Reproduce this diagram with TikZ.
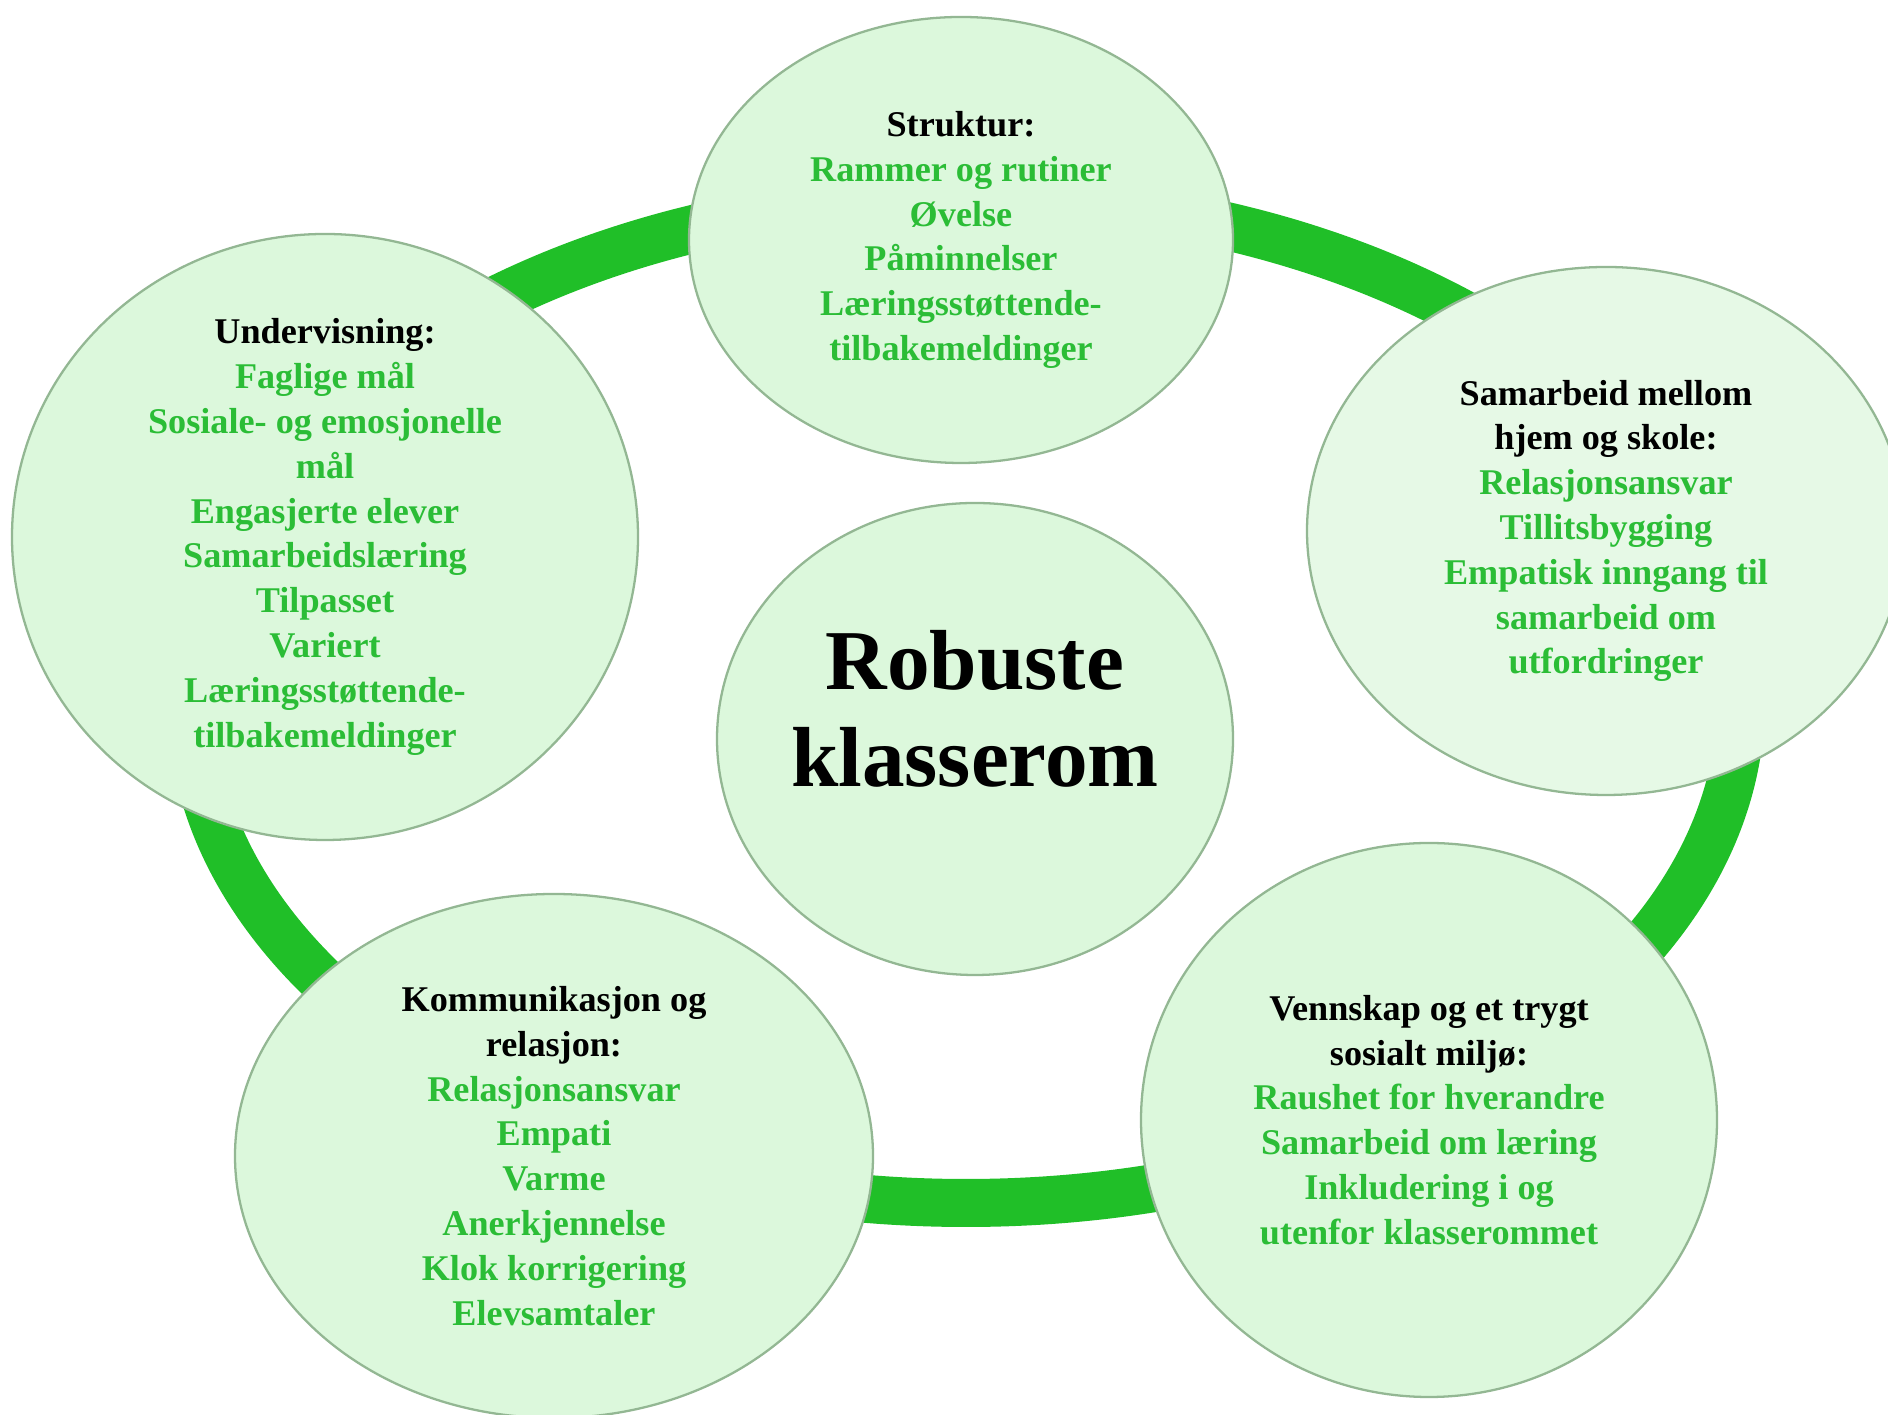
\documentclass[tikz,border=0pt]{standalone}
\usepackage{fontspec}
\setmainfont{Liberation Serif}
\usetikzlibrary{shapes.geometric}

\definecolor{ringgreen}{HTML}{20BF28}
\definecolor{itemgreen}{HTML}{2BBD36}
\definecolor{bubblefill}{HTML}{DCF8DC}
\definecolor{bubblelight}{HTML}{E6F9E6}
\definecolor{bubbleedge}{HTML}{93B793}

\newcommand{\hd}[1]{\textcolor{black}{#1}}

\begin{document}
\begin{tikzpicture}
 [
  ring/.style   = {draw = ringgreen, line width = 0.96cm},
  bubble/.style = {draw = bubbleedge, line width = 1.3pt, fill = bubblefill, ellipse, inner sep = 0pt},
  items/.style  = {align = center, text = itemgreen, font = \bfseries\fontsize{20.6}{25.5}\selectfont},
  title/.style  = {align = center, text = black, font = \bfseries\fontsize{48.5}{55}\selectfont},
 ]

 \useasboundingbox (0,0) rectangle (37.76,28.3);

 % the ring
 \draw[ring] (19.32,14.3) ellipse [x radius = 15.5, y radius = 10.06];

 % the bubbles
 \node (struktur) at (19.22,23.5) [bubble, minimum width = 10.88cm, minimum height = 8.92cm]{};
 \node (undervisning) at (6.5,17.56) [bubble, minimum width = 12.52cm, minimum height = 12.12cm]{};
 \node (samarbeid) at (32.12,17.68) [bubble, fill = bubblelight, minimum width = 11.96cm, minimum height = 10.56cm]{};
 \node (kjerne) at (19.5,13.52) [bubble, minimum width = 10.32cm, minimum height = 9.44cm]{};
 \node (kommunikasjon) at (11.08,5.18) [bubble, minimum width = 12.76cm, minimum height = 10.48cm]{};
 \node (vennskap) at (28.58,5.9) [bubble, minimum width = 11.52cm, minimum height = 11.08cm]{};

 % the texts
 \node (kjerne-txt) at ([yshift = 0.6cm]kjerne.center) [title]{Robuste\\klasserom};

 \node (struktur-txt) at (struktur.center) [items]{\hd{Struktur:}\\Rammer og rutiner\\Øvelse\\Påminnelser\\Læringsstøttende-\\tilbakemeldinger};

 \node (undervisning-txt) at (undervisning.center) [items]{\hd{Undervisning:}\\Faglige mål\\Sosiale- og emosjonelle\\mål\\Engasjerte elever\\Samarbeidslæring\\Tilpasset\\Variert\\Læringsstøttende-\\tilbakemeldinger};

 \node (samarbeid-txt) at (samarbeid.center) [items]{\hd{Samarbeid mellom}\\\hd{hjem og skole:}\\Relasjonsansvar\\Tillitsbygging\\Empatisk inngang til\\samarbeid om\\utfordringer};

 \node (kommunikasjon-txt) at (kommunikasjon.center) [items]{\hd{Kommunikasjon og}\\\hd{relasjon:}\\Relasjonsansvar\\Empati\\Varme\\Anerkjennelse\\Klok korrigering\\Elevsamtaler};

 \node (vennskap-txt) at (vennskap.center) [items]{\hd{Vennskap og et trygt}\\\hd{sosialt miljø:}\\Raushet for hverandre\\Samarbeid om læring\\Inkludering i og\\utenfor klasserommet};
\end{tikzpicture}
\end{document}
